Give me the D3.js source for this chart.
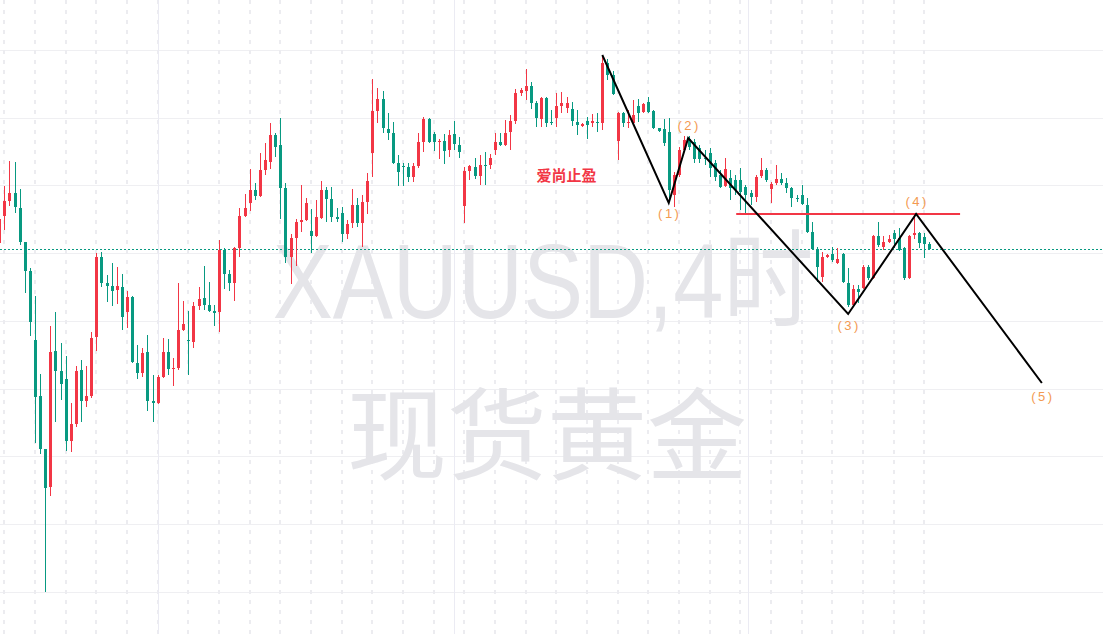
<!DOCTYPE html>
<html><head><meta charset="utf-8">
<script src="https://cdn.jsdelivr.net/npm/d3@7"></script>
<style>html,body{margin:0;padding:0;background:#fff;overflow:hidden}</style>
</head><body><svg id="c" width="1103" height="634"></svg>
<script>
// ---- data (candle index starts at -1, the partially visible first bar) ----
const startIndex = -1;
const open = [
2757,2784,2799,2807,2792,2758,2729,2660,2604,2551,
2513,2649,2629,2621,2559,2576,2630,2599,2604,2663,
2743,2717,2714,2710,2713,2688,2703,2637,2627,2648,
2599,2597,2623,2648,2631,2632,2670,2660,2658,2694,
2702,2695,2689,2688,2750,2726,2717,2752,2784,2797,
2810,2804,2830,2838,2865,2855,2812,2743,2762,2778,
2780,2769,2764,2782,2810,2801,2783,2787,2766,2777,
2795,2777,2798,2847,2889,2901,2871,2867,2837,2834,
2833,2823,2834,2858,2881,2866,2858,2859,2850,2866,
2855,2794,2829,2833,2824,2835,2835,2850,2858,2855,
2868,2879,2907,2909,2914,2897,2881,2902,2878,2882,
2894,2892,2891,2878,2874,2879,2877,2878,2877,2937,
2925,2859,2887,2877,2877,2894,2888,2898,2889,2872,
2871,2868,2805,2825,2850,2861,2858,2852,2842,2847,
2837,2825,2814,2822,2820,2820,2813,2807,2803,2824,
2830,2811,2817,2821,2817,2812,2802,2805,2795,2768,
2751,2723,2743,2746,2737,2746,2717,2695,2711,2712,
2733,2722,2764,2753,2758,2767,2762,2752,2722,2765,
2767,2763,2756];
const high = [
2785,2814,2839,2838,2811,2758,2732,2704,2626,2551,
2674,2688,2657,2644,2597,2634,2640,2634,2668,2747,
2748,2725,2737,2733,2726,2709,2704,2655,2652,2665,
2625,2625,2662,2661,2642,2717,2699,2689,2698,2713,
2734,2718,2695,2760,2752,2730,2753,2792,2806,2831,
2817,2847,2857,2877,2867,2882,2817,2766,2781,2815,
2802,2791,2800,2819,2813,2813,2792,2793,2780,2811,
2802,2805,2827,2921,2912,2909,2887,2878,2845,2837,
2837,2837,2867,2883,2882,2868,2861,2866,2870,2879,
2863,2833,2835,2842,2845,2848,2846,2867,2867,2880,
2885,2911,2912,2931,2918,2899,2903,2903,2890,2907,
2908,2903,2898,2890,2877,2883,2886,2887,2945,2941,
2929,2888,2888,2890,2900,2901,2897,2903,2890,2872,
2881,2882,2828,2853,2864,2864,2861,2855,2850,2852,
2840,2830,2842,2830,2825,2832,2815,2810,2825,2842,
2832,2818,2835,2827,2822,2813,2805,2815,2802,2778,
2753,2748,2746,2753,2752,2747,2732,2715,2715,2735,
2735,2765,2778,2764,2765,2770,2772,2753,2765,2786,
2768,2767,2758];
const low = [
2754,2770,2794,2787,2755,2707,2664,2557,2546,2408,
2504,2578,2600,2549,2548,2573,2578,2593,2602,2649,
2713,2698,2694,2696,2670,2672,2637,2621,2623,2589,
2578,2596,2622,2625,2614,2630,2669,2625,2652,2690,
2690,2688,2674,2668,2711,2709,2699,2743,2783,2789,
2800,2803,2825,2831,2843,2781,2737,2716,2734,2768,
2779,2747,2763,2781,2778,2778,2778,2758,2761,2772,
2773,2753,2786,2823,2877,2867,2860,2836,2814,2814,
2818,2818,2832,2848,2857,2849,2841,2836,2843,2850,
2842,2777,2820,2821,2815,2815,2831,2845,2854,2854,
2850,2876,2904,2900,2891,2873,2873,2873,2875,2873,
2887,2887,2874,2865,2873,2861,2873,2868,2870,2920,
2905,2840,2873,2872,2876,2878,2887,2887,2871,2868,
2854,2800,2793,2823,2848,2850,2837,2837,2835,2823,
2819,2812,2813,2800,2805,2790,2787,2795,2798,2822,
2818,2797,2815,2815,2807,2793,2798,2795,2767,2750,
2718,2718,2742,2738,2736,2717,2693,2693,2697,2711,
2720,2721,2753,2750,2757,2752,2749,2720,2721,2761,
2752,2742,2750];
const close = [
2781,2799,2807,2793,2758,2729,2678,2603,2551,2512,
2648,2629,2616,2559,2576,2629,2599,2604,2662,2743,
2717,2714,2709,2714,2683,2703,2638,2627,2647,2599,
2597,2623,2648,2631,2632,2670,2676,2659,2694,2701,
2695,2689,2687,2750,2726,2717,2752,2784,2792,2810,
2804,2830,2840,2865,2853,2812,2743,2762,2778,2780,
2797,2764,2783,2810,2801,2783,2781,2766,2776,2795,
2777,2798,2819,2889,2901,2872,2867,2837,2828,2833,
2823,2834,2858,2881,2858,2858,2859,2849,2865,2856,
2848,2829,2834,2824,2835,2834,2842,2858,2855,2867,
2879,2907,2910,2914,2897,2882,2902,2877,2877,2894,
2897,2897,2879,2875,2876,2875,2879,2877,2937,2925,
2906,2887,2877,2878,2885,2887,2896,2888,2872,2869,
2857,2810,2825,2850,2860,2853,2841,2841,2841,2832,
2823,2813,2831,2812,2810,2808,2805,2803,2823,2830,
2820,2816,2821,2817,2812,2802,2801,2796,2768,2751,
2733,2743,2745,2740,2741,2718,2695,2711,2708,2733,
2722,2764,2755,2758,2761,2761,2750,2722,2764,2767,
2757,2756,2751];

const gridPrices = [2950, 2882.3, 2814.6, 2746.9, 2679.2, 2611.5, 2543.8, 2476.1, 2408.4];
const gridEvery = 6;            // vertical dashed grid every 6 bars
const sessionBreaks = [30.1, 88, 145.5];
const lastPrice = 2751;

const waveIdx   = [117, 130, 133.8, 165.1, 178.4, 203];
const wavePrice = [2945, 2797, 2862, 2686, 2786, 2617];
const waveLabels = ["", "(1)", "(2)", "(3)", "(4)", "(5)"];
const waveLabelDy = [0, 12, -11, 13, -11, 15];

const resistIdx = [143.2, 187];
const resistPrice = 2786;

const noteText = "爱尚止盈";
const noteIdx = 110, notePrice = 2823;

const watermarkLines = ["XAUUSD,4时", "现货黄金"];

// ---- scales ----
const W = 1103, H = 634;
const x = d3.scaleLinear().domain([0, 180]).range([4.3, 924.3]);
const y = d3.scaleLinear().domain([2366, 3000]).range([H, 0]);

const UP = "#F23645", DOWN = "#089981";
const svg = d3.select("#c");

// grid: horizontal
svg.append("g").selectAll("line").data(gridPrices).join("line")
  .attr("x1", 0).attr("x2", W)
  .attr("y1", d => Math.round(y(d)) + 0.5).attr("y2", d => Math.round(y(d)) + 0.5)
  .attr("stroke", "#efeff2").attr("stroke-width", 1);

// grid: vertical dashed
const vIdx = d3.range(0, 181, gridEvery);
svg.append("g").selectAll("line").data(vIdx).join("line")
  .attr("x1", d => Math.round(x(d))).attr("x2", d => Math.round(x(d)))
  .attr("y1", 0).attr("y2", H)
  .attr("stroke", "#ececf0").attr("stroke-width", 2)
  .attr("stroke-dasharray", "4,6");

// session separators
svg.append("g").selectAll("line").data(sessionBreaks).join("line")
  .attr("x1", d => Math.round(x(d)) + 0.5).attr("x2", d => Math.round(x(d)) + 0.5)
  .attr("y1", 0).attr("y2", H)
  .attr("stroke", "#ebebf3").attr("stroke-width", 1);

// watermark
svg.append("text").text(watermarkLines[0])
  .attr("transform", "translate(543,318) scale(0.85,1)")
  .attr("x", 0).attr("y", 0).attr("text-anchor", "middle")
  .attr("font-family", "'Liberation Sans', Arial, 'Noto Sans CJK SC', sans-serif")
  .attr("font-size", 106).attr("fill", "#e5e5e9");
svg.append("text").text(watermarkLines[1])
  .attr("x", 547).attr("y", 472).attr("text-anchor", "middle")
  .attr("font-family", "'Noto Sans CJK SC', sans-serif")
  .attr("font-size", 100).attr("fill", "#e5e5e9");

// last price dotted line
svg.append("line")
  .attr("x1", 0).attr("x2", W)
  .attr("y1", Math.round(y(lastPrice)) + 0.5).attr("y2", Math.round(y(lastPrice)) + 0.5)
  .attr("stroke", DOWN).attr("stroke-width", 1).attr("stroke-dasharray", "2,2")
  .attr("shape-rendering", "crispEdges");

// candles
const data = open.map((o, k) => ({ i: startIndex + k, o, h: high[k], l: low[k], c: close[k] }));
const cg = svg.append("g").attr("shape-rendering", "crispEdges");
data.forEach(d => {
  const cx = Math.round(x(d.i));
  const col = d.c >= d.o ? UP : DOWN;
  cg.append("rect").attr("x", cx).attr("width", 1)
    .attr("y", y(d.h)).attr("height", Math.max(1, y(d.l) - y(d.h))).attr("fill", col);
  const top = y(Math.max(d.o, d.c)), bot = y(Math.min(d.o, d.c));
  cg.append("rect").attr("x", cx - 1).attr("width", 3)
    .attr("y", top).attr("height", Math.max(1, bot - top)).attr("fill", col);
});

// resistance line
svg.append("line")
  .attr("x1", x(resistIdx[0])).attr("x2", x(resistIdx[1]))
  .attr("y1", y(resistPrice)).attr("y2", y(resistPrice))
  .attr("stroke", UP).attr("stroke-width", 2);

// wave polyline
const wave = waveIdx.map((v, k) => [x(v), y(wavePrice[k])]);
svg.append("path").attr("d", d3.line()(wave))
  .attr("fill", "none").attr("stroke", "#000").attr("stroke-width", 2)
  .attr("stroke-linejoin", "miter");

// wave labels
svg.append("g").selectAll("text").data(waveIdx.map((v, k) => k).filter(k => waveLabels[k]))
  .join("text")
  .attr("x", k => x(waveIdx[k]) + 1).attr("y", k => y(wavePrice[k]) + waveLabelDy[k])
  .attr("dominant-baseline", "middle").attr("text-anchor", "middle")
  .attr("font-family", "'Liberation Sans', Arial, sans-serif").attr("font-size", 13)
  .attr("letter-spacing", 2.5).attr("fill", "#f39a52")
  .text(k => waveLabels[k]);

// note
svg.append("text").text(noteText)
  .attr("x", x(noteIdx)).attr("y", y(notePrice))
  .attr("text-anchor", "middle").attr("dominant-baseline", "middle")
  .attr("font-family", "'Noto Sans CJK SC', sans-serif").attr("font-size", 15)
  .attr("font-weight", 700).attr("fill", UP);
</script>
</body></html>
